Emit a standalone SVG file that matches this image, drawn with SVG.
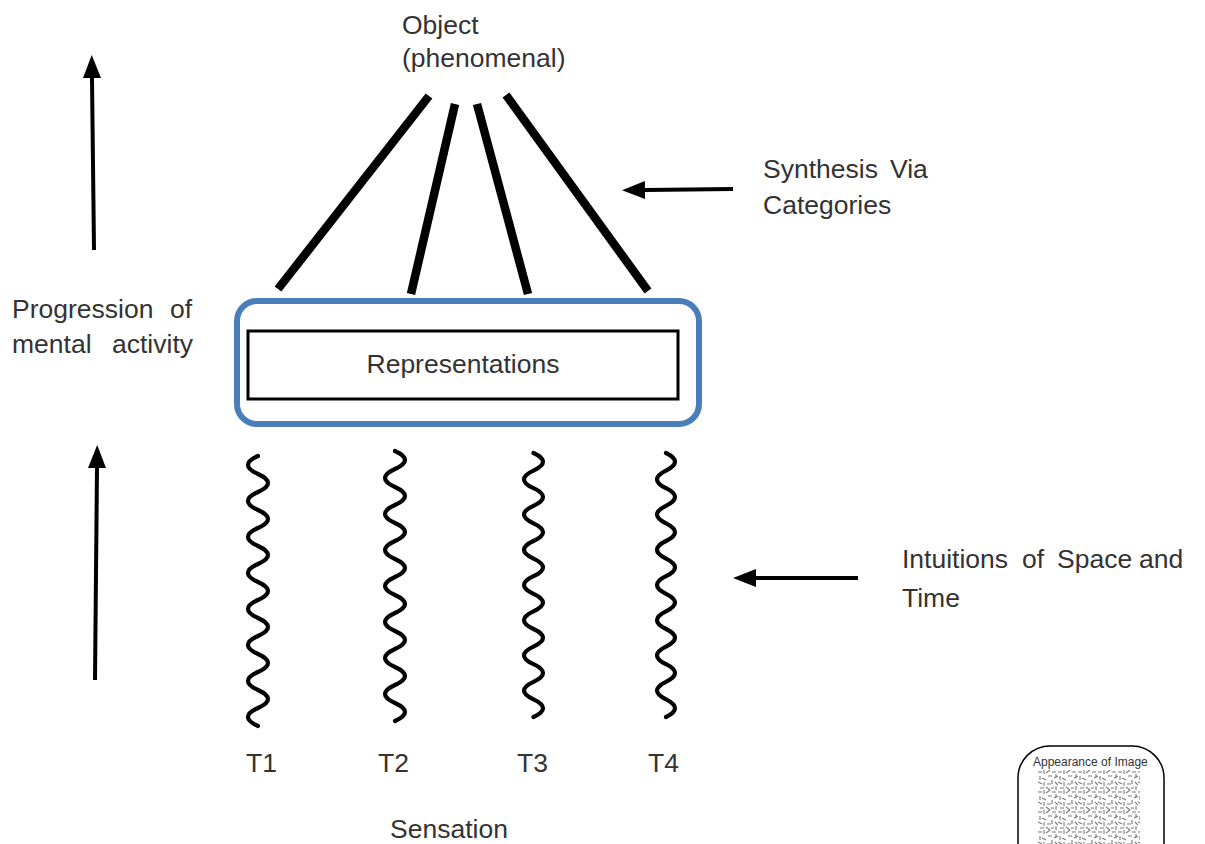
<svg xmlns="http://www.w3.org/2000/svg" width="1205" height="844" viewBox="0 0 1205 844">
  <style>
    .lbl { font-family: "Liberation Sans", Arial, sans-serif; font-size: 26.5px; fill: #333333; }
    .small { font-family: "Liberation Sans", Arial, sans-serif; font-size: 12px; fill: #333333; }
    .thick { stroke: #000000; stroke-width: 8.5; fill: none; stroke-linecap: butt; }
    .wave { stroke: #000000; stroke-width: 4.2; fill: none; stroke-linecap: round; stroke-linejoin: round; }
    .arrow { stroke: #000000; stroke-width: 4; fill: none; marker-end: url(#head); }
  </style>
  <defs>
    <marker id="head" markerUnits="userSpaceOnUse" markerWidth="23" markerHeight="18" refX="0" refY="9" orient="auto" viewBox="0 0 23 18">
      <path d="M0,0 L23,9 L0,18 Z" fill="#000000"/>
    </marker>
    <pattern id="maze" patternUnits="userSpaceOnUse" width="20" height="20" x="1038" y="770">
      <path d="M0,2 h4 M6,0 v4 M8,3 l4,-3 M14,2 h4 M18,4 v4 M2,6 v4 M4,8 l4,2 M10,6 h4 M16,8 l4,-2 M0,12 l4,2 M6,12 v4 M9,14 h4 M14,10 v4 M17,12 l3,3 M2,18 h4 M8,17 l4,3 M13,18 h3 M18,16 v4" stroke="#7a7a7a" stroke-width="1.1" fill="none"/>
    </pattern>
  </defs>
  <rect x="0" y="0" width="1205" height="844" fill="#ffffff"/>

  <g id="connectors">
    <!-- synthesis lines -->
    <line class="thick" x1="429" y1="96" x2="278" y2="289"/>
    <line class="thick" x1="455" y1="104" x2="411" y2="294"/>
    <line class="thick" x1="477" y1="104" x2="528" y2="294"/>
    <line class="thick" x1="506" y1="95" x2="648" y2="291"/>
    <!-- wavy intuitions -->
    <path id="wave-T1" class="wave" d="M258,456 Q238,465 258,474 T258,492 T258,510 T258,528 T258,546 T258,564 T258,582 T258,600 T258,618 T258,636 T258,654 T258,672 T258,690 T258,708 T258,726"/>
    <path id="wave-T2" class="wave" d="M395,451 Q415,460 395,469 T395,487 T395,505 T395,523 T395,541 T395,559 T395,577 T395,595 T395,613 T395,631 T395,649 T395,667 T395,685 T395,703 T395,721"/>
    <path id="wave-T3" class="wave" d="M533.5,453 Q552.5,461.8 533.5,470.6 T533.5,488.2 T533.5,505.8 T533.5,523.4 T533.5,541 T533.5,558.6 T533.5,576.2 T533.5,593.8 T533.5,611.4 T533.5,629 T533.5,646.6 T533.5,664.2 T533.5,681.8 T533.5,699.4 T533.5,717"/>
    <path id="wave-T4" class="wave" d="M666,453 Q684,461.8 666,470.6 T666,488.2 T666,505.8 T666,523.4 T666,541 T666,558.6 T666,576.2 T666,593.8 T666,611.4 T666,629 T666,646.6 T666,664.2 T666,681.8 T666,699.4 T666,717"/>
    <!-- arrows -->
    <line class="arrow" x1="94" y1="250" x2="92" y2="78"/>
    <line class="arrow" x1="95" y1="680" x2="97" y2="468"/>
    <line class="arrow" x1="733" y1="189" x2="645" y2="190"/>
    <line class="arrow" x1="858" y1="578" x2="756" y2="578"/>
  </g>

  <g id="node-object">
    <text class="lbl" x="402" y="34">Object</text>
    <text class="lbl" x="402" y="67">(phenomenal)</text>
  </g>

  <g id="node-synthesis">
    <text class="lbl" y="178"><tspan x="763">Synthesis</tspan><tspan x="890">Via</tspan></text>
    <text class="lbl" x="763" y="214">Categories</text>
  </g>

  <g id="node-progression">
    <text class="lbl" y="318"><tspan x="12">Progression</tspan><tspan x="170">of</tspan></text>
    <text class="lbl" y="353"><tspan x="12">mental</tspan><tspan x="112">activity</tspan></text>
  </g>

  <g id="node-representations">
    <rect x="237" y="301" width="462" height="123" rx="20" ry="20" fill="#ffffff" stroke="#4a7ebb" stroke-width="6"/>
    <rect x="248" y="331" width="430" height="68" fill="#ffffff" stroke="#000000" stroke-width="3"/>
    <text class="lbl" x="463" y="373" text-anchor="middle">Representations</text>
  </g>

  <g id="node-intuitions">
    <text class="lbl" y="568"><tspan x="902">Intuitions</tspan><tspan x="1022">of</tspan><tspan x="1057">Space</tspan><tspan x="1139">and</tspan></text>
    <text class="lbl" x="902" y="607">Time</text>
  </g>

  <g id="node-T1"><text class="lbl" x="246" y="772">T1</text></g>
  <g id="node-T2"><text class="lbl" x="378" y="772">T2</text></g>
  <g id="node-T3"><text class="lbl" x="517" y="772">T3</text></g>
  <g id="node-T4"><text class="lbl" x="648" y="772">T4</text></g>

  <g id="node-sensation">
    <text class="lbl" x="390" y="838">Sensation</text>
  </g>

  <g id="node-appearance">
    <path d="M1018,850 L1018,778 A32,32 0 0 1 1050,746 L1132,746 A32,32 0 0 1 1164,778 L1164,850" fill="#ffffff" stroke="#000000" stroke-width="1.5"/>
    <text class="small" x="1033" y="766">Appearance of Image</text>
    <rect x="1038" y="770" width="102" height="74" fill="url(#maze)"/>
  </g>
</svg>
